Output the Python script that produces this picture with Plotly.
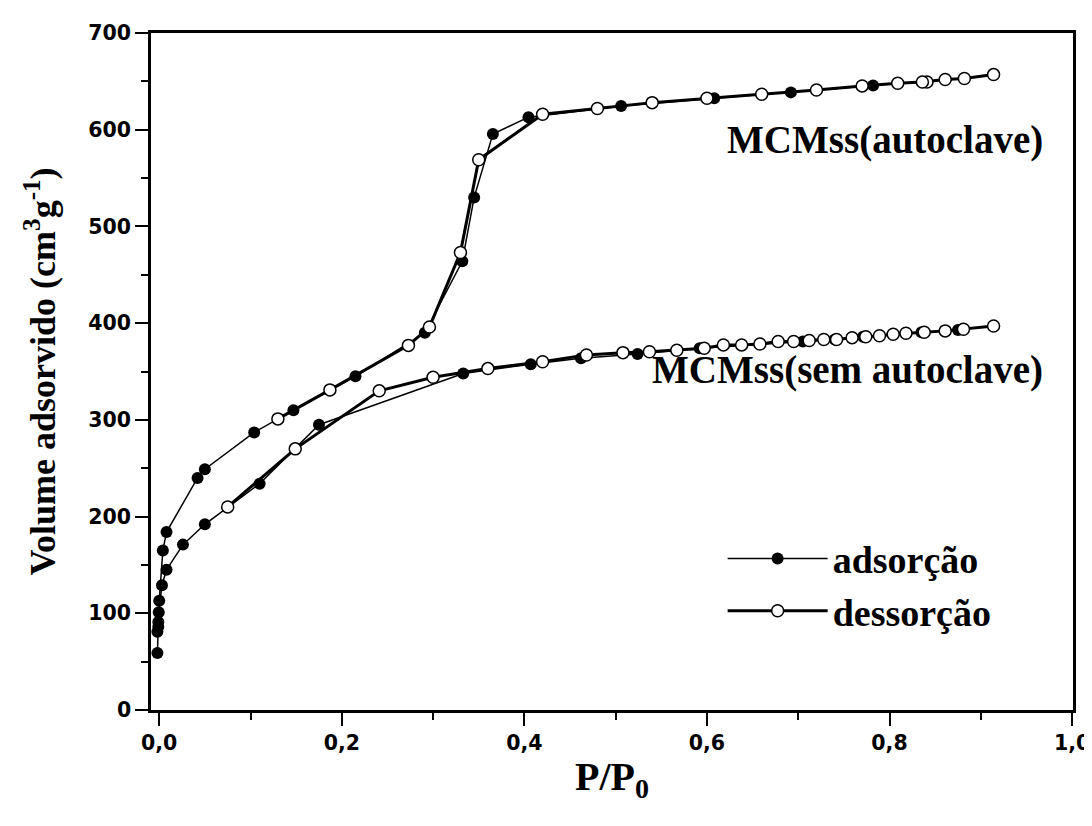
import plotly.graph_objects as go

# MCMss (autoclave) - adsorption (filled) and desorption (open)
auto_ads_p = [-0.002, -0.001, 0.0, 0.004, 0.008, 0.042, 0.050, 0.104, 0.147, 0.215,
              0.291, 0.332, 0.345, 0.3655, 0.4045, 0.506, 0.608, 0.692, 0.782]
auto_ads_v = [81, 91, 113, 165, 184, 240, 249, 287, 310, 345,
              390, 464, 530, 595.6, 613, 624.6, 632.5, 638.6, 645.6]
auto_des_p = [0.914, 0.882, 0.861, 0.841, 0.836, 0.809, 0.770, 0.720, 0.660, 0.600,
              0.540, 0.480, 0.420, 0.350, 0.330, 0.296, 0.273, 0.187, 0.130]
auto_des_v = [657, 653, 652, 649.4, 649.4, 648, 645.3, 641, 636.7, 632.5,
              628, 622, 616, 569, 473, 396, 377, 331, 301]

# MCMss (sem autoclave)
sem_ads_p = [-0.002, -0.001, -0.0005, 0.003, 0.008, 0.026, 0.050, 0.110, 0.175, 0.333,
             0.407, 0.462, 0.524, 0.592, 0.705, 0.740, 0.771, 0.835, 0.875]
sem_ads_v = [59, 86, 101, 129, 145, 171, 192, 234, 295, 348,
             357.5, 363.6, 368, 374, 381, 383, 386, 390.5, 393]
sem_des_p = [0.914, 0.881, 0.861, 0.838, 0.818, 0.804, 0.789, 0.774, 0.759, 0.742,
             0.728, 0.712, 0.695, 0.678, 0.658, 0.638, 0.618, 0.597, 0.567, 0.537,
             0.508, 0.468, 0.420, 0.360, 0.300, 0.241, 0.149, 0.075]
sem_des_v = [397, 393.6, 392, 390.5, 389.5, 388.5, 387, 386, 385, 383,
             383, 382, 381, 381, 378.5, 377.5, 377.5, 374, 372, 370.5,
             369.5, 367, 360, 353, 344, 330, 270, 210]

series_labels = ["adsorção", "dessorção"]
sample_labels = ["MCMss(autoclave)", "MCMss(sem autoclave)"]

SERIF = "Liberation Serif, Times New Roman, serif"
SANS = "DejaVu Sans, Arial, sans-serif"

ads_style = dict(mode="lines+markers", line=dict(color="black", width=1.5),
                 marker=dict(symbol="circle", size=12, color="black"))
des_style = dict(mode="lines+markers", line=dict(color="black", width=3),
                 marker=dict(symbol="circle", size=12, color="white",
                             line=dict(color="black", width=1.5)))

fig = go.Figure()
fig.add_trace(go.Scatter(x=sem_ads_p, y=sem_ads_v, showlegend=False, **ads_style))
fig.add_trace(go.Scatter(x=sem_des_p, y=sem_des_v, showlegend=False, **des_style))
fig.add_trace(go.Scatter(x=auto_ads_p, y=auto_ads_v, name=series_labels[0], **ads_style))
fig.add_trace(go.Scatter(x=auto_des_p, y=auto_des_v, name=series_labels[1], **des_style))

fig.add_annotation(text=sample_labels[0], xref="paper", yref="paper", x=0.97, y=0.842,
                   xanchor="right", yanchor="middle", showarrow=False,
                   font=dict(family=SERIF, size=39, color="black", weight="bold"))
fig.add_annotation(text=sample_labels[1], xref="paper", yref="paper", x=0.97, y=0.502,
                   xanchor="right", yanchor="middle", showarrow=False,
                   font=dict(family=SERIF, size=39, color="black", weight="bold"))

axis_common = dict(
    showline=True, linecolor="black", linewidth=2.5, mirror=True,
    showgrid=False, zeroline=False, automargin=False,
    ticks="outside", ticklen=13, tickwidth=2, tickcolor="black",
    tickfont=dict(family=SANS, size=20.5, color="black", weight="bold"),
)

# the page body adds an 8px offset, so the figure is 8px smaller than the window
fig.update_layout(
    width=1084, height=818,
    paper_bgcolor="white", plot_bgcolor="white",
    margin=dict(l=143, r=19, t=25, b=116),
    separators=",.",
    xaxis=dict(
        **axis_common,
        range=[-0.009, 1.001], tick0=0, dtick=0.2, tickformat=".1f",
        minor=dict(dtick=0.1, ticks="outside", ticklen=7, tickwidth=2, tickcolor="black"),
        title=dict(text="P/P<sub>0</sub>", standoff=8,
                   font=dict(family=SERIF, size=40, color="black", weight="bold")),
    ),
    yaxis=dict(
        **axis_common,
        range=[0, 700], dtick=100,
        minor=dict(dtick=50, ticks="outside", ticklen=7, tickwidth=2, tickcolor="black"),
        title=dict(text="Volume adsorvido (cm<sup>3</sup>g<sup>-1</sup>)", standoff=22,
                   font=dict(family=SERIF, size=36, color="black", weight="bold")),
    ),
    legend=dict(
        x=0.62, y=0.27, xanchor="left", yanchor="top",
        bgcolor="rgba(0,0,0,0)", itemwidth=100, tracegroupgap=0,
        font=dict(family=SERIF, size=38, color="black", weight="bold"),
    ),
)

fig.write_html("out.html")
